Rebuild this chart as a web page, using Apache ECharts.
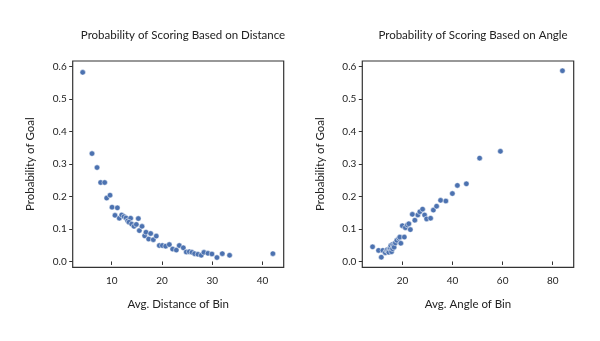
<!DOCTYPE html>
<html>
<head>
<meta charset="utf-8">
<script src="https://cdn.jsdelivr.net/npm/echarts@6/dist/echarts.min.js"></script>
<style>
  html, body { margin: 0; padding: 0; background: #fff; }
  #chart { width: 600px; height: 341px; }
</style>
</head>
<body>
<div id="chart"></div>
<script>
// Binned shot data: average distance / angle of each bin vs. share of shots scored
const distX = [4.24, 6.09, 7.09, 7.81, 8.61, 9.01, 9.67, 10.07, 11.13, 10.66, 11.52, 11.99, 12.45, 12.85, 13.18, 13.77, 13.44, 13.97, 14.44, 14.9, 15.3, 15.5, 16.03, 16.56, 16.82, 17.35, 17.75, 18.28, 18.87, 19.47, 20.07, 20.73, 21.46, 22.12, 22.85, 23.44, 24.24, 24.83, 25.43, 25.96, 26.49, 27.15, 27.81, 28.34, 29.14, 29.93, 30.93, 31.99, 33.44, 42.05];
const distY = [0.582, 0.332, 0.289, 0.243, 0.243, 0.195, 0.204, 0.167, 0.165, 0.142, 0.133, 0.143, 0.138, 0.134, 0.125, 0.133, 0.121, 0.115, 0.108, 0.114, 0.132, 0.095, 0.108, 0.079, 0.09, 0.069, 0.086, 0.067, 0.078, 0.049, 0.049, 0.047, 0.052, 0.038, 0.035, 0.049, 0.042, 0.029, 0.03, 0.028, 0.024, 0.022, 0.019, 0.028, 0.025, 0.023, 0.012, 0.024, 0.019, 0.024];

const angleX = [8.0, 10.4, 11.5, 12.1, 13.1, 13.6, 13.9, 14.3, 14.5, 14.9, 15.1, 15.3, 15.6, 16.0, 16.0, 16.4, 16.6, 17.1, 17.7, 18.5, 18.9, 19.3, 19.9, 20.7, 21.1, 21.9, 22.5, 23.1, 23.9, 24.9, 26.1, 26.9, 28.0, 28.8, 29.6, 31.2, 32.3, 33.6, 35.2, 37.3, 39.9, 41.9, 45.5, 50.8, 59.1, 83.9];
const angleY = [0.045, 0.034, 0.013, 0.034, 0.027, 0.034, 0.036, 0.032, 0.028, 0.040, 0.042, 0.049, 0.030, 0.039, 0.052, 0.049, 0.044, 0.057, 0.065, 0.071, 0.075, 0.056, 0.110, 0.075, 0.104, 0.112, 0.116, 0.098, 0.145, 0.127, 0.143, 0.153, 0.161, 0.143, 0.131, 0.133, 0.158, 0.170, 0.188, 0.186, 0.209, 0.234, 0.239, 0.318, 0.339, 0.587];

const distTicks = [10, 20, 30, 40];
const angleTicks = [20, 40, 60, 80];
const probTicks = [0, 0.1, 0.2, 0.3, 0.4, 0.5, 0.6];

const FONT = 'Lato';
const INK = '#222';
const FRAME = '#333';
const DOT = '#4c72b0';

function pairs(xs, ys) { return xs.map((x, i) => [x, ys[i]]); }

function xAxisCfg(idx, min, max, ticks, name) {
  return {
    type: 'value', gridIndex: idx, min: min, max: max,
    name: name, nameLocation: 'middle', nameGap: 31,
    nameTextStyle: { fontFamily: FONT, fontSize: 11.5, color: INK },
    axisLine: { show: false },
    splitLine: { show: false },
    axisTick: { show: true, length: 3.5, customValues: ticks, lineStyle: { color: FRAME, width: 1 } },
    axisLabel: { customValues: ticks, margin: 8, fontFamily: FONT, fontSize: 10, color: INK }
  };
}
function yAxisCfg(idx) {
  return {
    type: 'value', gridIndex: idx, min: -0.018, max: 0.617,
    name: 'Probability of Goal', nameLocation: 'middle', nameGap: 36, nameRotate: 90,
    nameTextStyle: { fontFamily: FONT, fontSize: 11.5, color: INK },
    axisLine: { show: false },
    splitLine: { show: false },
    axisTick: { show: true, length: 3.5, customValues: probTicks, lineStyle: { color: FRAME, width: 1 } },
    axisLabel: { customValues: probTicks, margin: 6, fontFamily: FONT, fontSize: 10, color: INK,
                 formatter: v => v.toFixed(1) }
  };
}
function scatterCfg(idx, data) {
  return {
    type: 'scatter', xAxisIndex: idx, yAxisIndex: idx, data: data,
    symbolSize: 5.5,
    itemStyle: { color: DOT, borderColor: '#fff', borderWidth: 0.5, opacity: 1 },
    emphasis: { disabled: true }
  };
}

const chart = echarts.init(document.getElementById('chart'), null, { renderer: 'canvas' });
chart.setOption({
  animation: false,
  backgroundColor: '#fff',
  title: [
    { text: 'Probability of Scoring Based on Distance', left: 178, top: 24, textAlign: 'center',
      textStyle: { fontFamily: FONT, fontSize: 11.5, fontWeight: 'normal', color: INK } },
    { text: 'Probability of Scoring Based on Angle', left: 468, top: 24, textAlign: 'center',
      textStyle: { fontFamily: FONT, fontSize: 11.5, fontWeight: 'normal', color: INK } }
  ],
  grid: [
    { left: 72.7, top: 61, width: 211, height: 206.3, show: true, borderColor: FRAME, borderWidth: 1.2, backgroundColor: 'transparent' },
    { left: 362.3, top: 61, width: 211.4, height: 206.3, show: true, borderColor: FRAME, borderWidth: 1.2, backgroundColor: 'transparent' }
  ],
  xAxis: [
    xAxisCfg(0, 2.25, 44.2, distTicks, 'Avg. Distance of Bin'),
    xAxisCfg(1, 3.9, 88.4, angleTicks, 'Avg. Angle of Bin')
  ],
  yAxis: [yAxisCfg(0), yAxisCfg(1)],
  series: [
    scatterCfg(0, pairs(distX, distY)),
    scatterCfg(1, pairs(angleX, angleY))
  ]
});
</script>
</body>
</html>
